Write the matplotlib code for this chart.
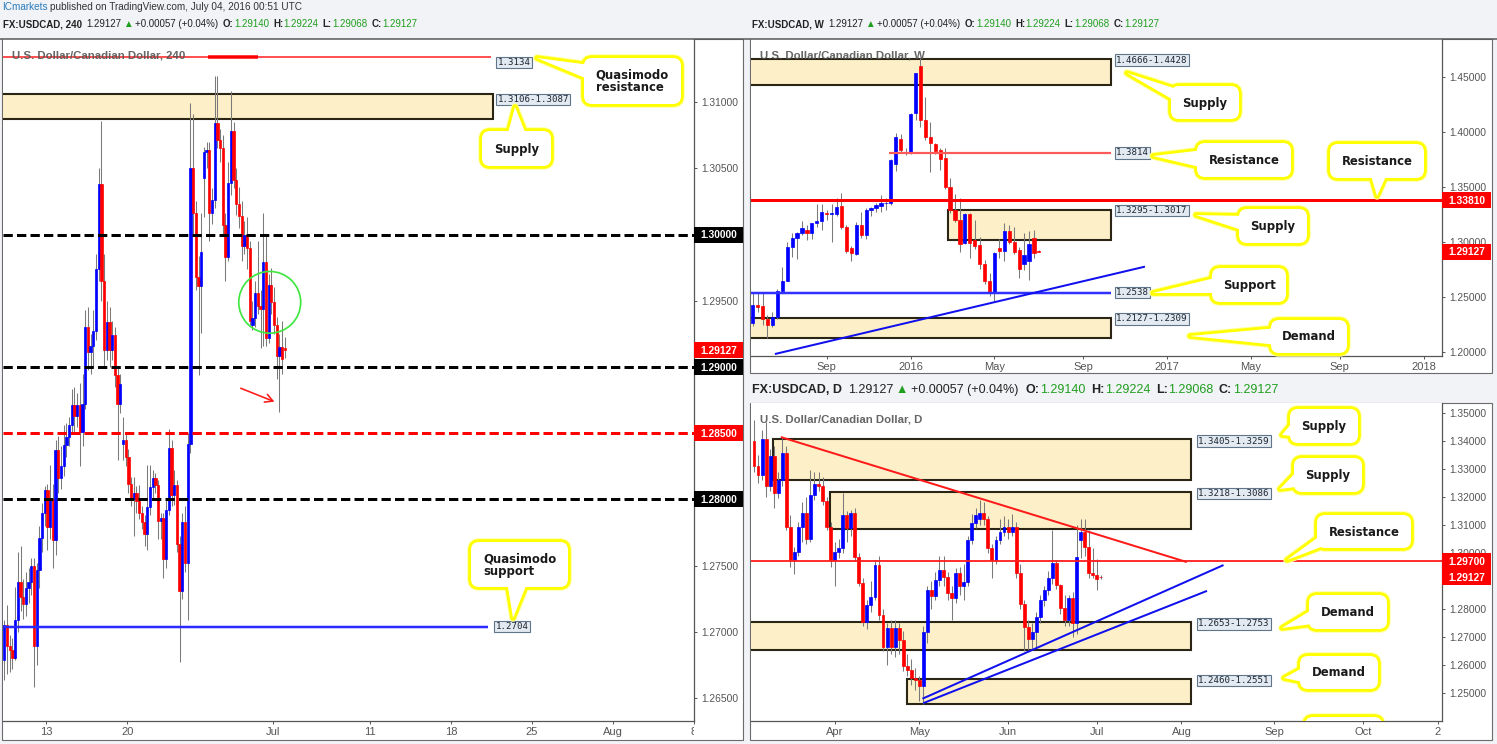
import numpy as np
import matplotlib
matplotlib.use("Agg")
import matplotlib.pyplot as plt
import matplotlib.patches as mpatches
import matplotlib.transforms as mtransforms
from matplotlib.lines import Line2D

plt.rcParams['font.family'] = ['Liberation Sans', 'DejaVu Sans']

# ============================ DATA ============================
symbol = "FX:USDCAD"
pair_name = "U.S. Dollar/Canadian Dollar"
last_o, last_h, last_l, last_c = 1.29140, 1.29224, 1.29068, 1.29127
last_chg, last_chg_pct = 0.00057, 0.04

# ---- 4 hour candles (oldest first) ----
h4_open = [1.2679, 1.2705, 1.2689, 1.2686, 1.2680, 1.2709, 1.2738, 1.2726, 1.2721, 1.2733,
           1.2738, 1.2750, 1.2689, 1.2747, 1.2771, 1.2790, 1.2807, 1.2779, 1.2800, 1.2769,
           1.2837, 1.2816, 1.2825, 1.2841, 1.2847, 1.2856, 1.2871, 1.2863, 1.2871, 1.2851,
           1.2872, 1.2930, 1.2911, 1.2916, 1.2927, 1.2974, 1.3038, 1.2965, 1.2913, 1.2934,
           1.2913, 1.2924, 1.2894, 1.2872, 1.2842, 1.2845, 1.2832, 1.2812, 1.2800, 1.2805,
           1.2799, 1.2790, 1.2783, 1.2774, 1.2794, 1.2809, 1.2816, 1.2811, 1.2784, 1.2786,
           1.2755, 1.2792, 1.2839, 1.2803, 1.2811, 1.2766, 1.2731, 1.2783, 1.2752, 1.2842,
           1.3050, 1.3016, 1.2968, 1.2961, 1.3043, 1.3062, 1.3064, 1.3016, 1.3026, 1.3084,
           1.3071, 1.3065, 1.3007, 1.2983, 1.3039, 1.3078, 1.3041, 1.3023, 1.3014, 1.2991,
           1.3000, 1.2990, 1.2932, 1.2937, 1.2956, 1.2946, 1.2944, 1.2979, 1.2922, 1.2962,
           1.2949, 1.2932, 1.2908, 1.2915, 1.29140]
h4_high = [1.2709, 1.2720, 1.2698, 1.2695, 1.2734, 1.2760, 1.2765, 1.2740, 1.2745, 1.2748,
           1.2756, 1.2756, 1.2752, 1.2780, 1.2797, 1.2810, 1.2812, 1.2826, 1.2812, 1.2845,
           1.2848, 1.2840, 1.2856, 1.2858, 1.2862, 1.2883, 1.2885, 1.2880, 1.2888, 1.2895,
           1.2943, 1.2945, 1.2925, 1.2943, 1.2985, 1.3050, 1.3086, 1.2985, 1.2950, 1.2945,
           1.2935, 1.2930, 1.2900, 1.2895, 1.2862, 1.2850, 1.2838, 1.2817, 1.2817, 1.2810,
           1.2811, 1.2795, 1.2788, 1.2826, 1.2826, 1.2822, 1.2820, 1.2815, 1.2790, 1.2790,
           1.2800, 1.2853, 1.2845, 1.2822, 1.2815, 1.2772, 1.2790, 1.2795, 1.2850, 1.3099,
           1.3091, 1.3025, 1.2984, 1.3016, 1.3066, 1.3070, 1.3070, 1.3035, 1.3120, 1.3120,
           1.3080, 1.3075, 1.3016, 1.3055, 1.3108, 1.3085, 1.3050, 1.3036, 1.3025, 1.3010,
           1.3013, 1.2995, 1.2950, 1.2965, 1.2995, 1.2958, 1.3016, 1.3000, 1.2970, 1.2975,
           1.2960, 1.2938, 1.2925, 1.2935, 1.29224]
h4_low = [1.2664, 1.2668, 1.2670, 1.2672, 1.2679, 1.2700, 1.2716, 1.2710, 1.2712, 1.2722,
          1.2728, 1.2658, 1.2675, 1.2733, 1.2760, 1.2780, 1.2762, 1.2770, 1.2748, 1.2758,
          1.2805, 1.2808, 1.2818, 1.2832, 1.2840, 1.2850, 1.2850, 1.2855, 1.2825, 1.2840,
          1.2868, 1.2898, 1.2895, 1.2900, 1.2920, 1.2965, 1.2950, 1.2900, 1.2905, 1.2900,
          1.2905, 1.2885, 1.2830, 1.2865, 1.2830, 1.2825, 1.2805, 1.2795, 1.2772, 1.2790,
          1.2785, 1.2778, 1.2765, 1.2762, 1.2788, 1.2800, 1.2805, 1.2770, 1.2770, 1.2741,
          1.2748, 1.2788, 1.2795, 1.2796, 1.2760, 1.2677, 1.2725, 1.2745, 1.2709, 1.2835,
          1.3000, 1.2958, 1.2894, 1.2926, 1.3013, 1.3050, 1.2995, 1.3008, 1.3020, 1.3065,
          1.3055, 1.3000, 1.2965, 1.2980, 1.3030, 1.3035, 1.3015, 1.3005, 1.2980, 1.2985,
          1.2974, 1.2932, 1.2928, 1.2930, 1.2940, 1.2914, 1.2916, 1.2916, 1.2918, 1.2940,
          1.2925, 1.2891, 1.2866, 1.2895, 1.29068]
h4_close = [1.2705, 1.2689, 1.2686, 1.2680, 1.2709, 1.2738, 1.2726, 1.2721, 1.2733, 1.2738,
            1.2750, 1.2689, 1.2747, 1.2771, 1.2790, 1.2807, 1.2779, 1.2800, 1.2769, 1.2837,
            1.2816, 1.2825, 1.2841, 1.2847, 1.2856, 1.2871, 1.2863, 1.2871, 1.2851, 1.2872,
            1.2930, 1.2911, 1.2916, 1.2927, 1.2974, 1.3038, 1.2965, 1.2913, 1.2934, 1.2913,
            1.2924, 1.2894, 1.2872, 1.2887, 1.2845, 1.2832, 1.2812, 1.2800, 1.2805, 1.2799,
            1.2790, 1.2783, 1.2774, 1.2794, 1.2809, 1.2816, 1.2811, 1.2784, 1.2786, 1.2755,
            1.2792, 1.2839, 1.2803, 1.2811, 1.2766, 1.2731, 1.2783, 1.2752, 1.2842, 1.3050,
            1.3016, 1.2968, 1.2961, 1.2987, 1.3062, 1.3064, 1.3016, 1.3026, 1.3084, 1.3071,
            1.3065, 1.3007, 1.2983, 1.3039, 1.3078, 1.3041, 1.3023, 1.3014, 1.2991, 1.3000,
            1.2990, 1.2935, 1.2937, 1.2956, 1.2946, 1.2944, 1.2979, 1.2922, 1.2962, 1.2949,
            1.2932, 1.2908, 1.2915, 1.2906, 1.29127]
h4_tick_dates = ["2016-06-13", "2016-06-20", "2016-07-01", "2016-07-11",
                 "2016-07-18", "2016-07-25", "2016-08-01", "2016-08-08"]
h4_tick_labels = ["13", "20", "Jul", "11", "18", "25", "Aug", "8"]
h4_price_ticks = [1.265, 1.270, 1.275, 1.280, 1.285, 1.290, 1.295, 1.300, 1.305, 1.310]
h4_qm_resistance = 1.3134
h4_supply = (1.3087, 1.3106)
h4_round_levels = [1.300, 1.290, 1.280]
h4_half_level = 1.285
h4_qm_support = 1.2704

# ---- weekly candles (first bar: week of 2015-05-25) ----
w_open = [1.2264, 1.2425, 1.2419, 1.2295, 1.2243, 1.2313, 1.2556, 1.2647, 1.2951, 1.3033,
          1.3079, 1.3109, 1.3085, 1.3170, 1.3192, 1.3261, 1.3255, 1.3255, 1.3331, 1.3134,
          1.2942, 1.2888, 1.3155, 1.3064, 1.3292, 1.3307, 1.3331, 1.3353, 1.3359, 1.3708,
          1.3936, 1.3809, 1.3809, 1.4173, 1.4605, 1.4113, 1.3961, 1.3894, 1.3839, 1.3763,
          1.3505, 1.3292, 1.3201, 1.2994, 1.3255, 1.3018, 1.2973, 1.2799, 1.2647, 1.2532,
          1.2942, 1.2921, 1.3100, 1.3003, 1.2927, 1.2799, 1.2830, 1.3033, 1.29140]
w_high = [1.2547, 1.2532, 1.2532, 1.2330, 1.2365, 1.2570, 1.2775, 1.3003, 1.3085, 1.3088,
          1.3192, 1.3155, 1.3176, 1.3347, 1.3344, 1.3292, 1.3344, 1.3401, 1.3444, 1.3155,
          1.2967, 1.3185, 1.3271, 1.3307, 1.3322, 1.3353, 1.3426, 1.3401, 1.3760, 1.3997,
          1.3985, 1.3860, 1.4173, 1.4544, 1.4680, 1.4325, 1.4097, 1.3906, 1.3860, 1.3854,
          1.3581, 1.3438, 1.3401, 1.3268, 1.3261, 1.3201, 1.3049, 1.2836, 1.2714, 1.2906,
          1.3024, 1.3170, 1.3155, 1.3140, 1.2951, 1.3079, 1.3099, 1.3109, 1.29224]
w_low = [1.2230, 1.2365, 1.2243, 1.2121, 1.2228, 1.2300, 1.2540, 1.2640, 1.2860, 1.2845,
         1.3060, 1.3018, 1.3027, 1.3140, 1.3109, 1.3201, 1.3003, 1.3240, 1.3120, 1.2897,
         1.2830, 1.2880, 1.3040, 1.3024, 1.3240, 1.3270, 1.3277, 1.3290, 1.3340, 1.3650,
         1.3818, 1.3790, 1.3800, 1.4110, 1.4050, 1.3930, 1.3635, 1.3800, 1.3657, 1.3480,
         1.3260, 1.3180, 1.2912, 1.2980, 1.2851, 1.2940, 1.2754, 1.2620, 1.2510, 1.2461,
         1.2850, 1.2830, 1.2980, 1.2890, 1.2669, 1.2745, 1.2655, 1.2851, 1.29068]
w_close = [1.2425, 1.2410, 1.2295, 1.2243, 1.2313, 1.2556, 1.2647, 1.2951, 1.3033, 1.3079,
           1.3125, 1.3079, 1.3170, 1.3192, 1.3277, 1.3252, 1.3261, 1.3322, 1.3134, 1.2921,
           1.2897, 1.3155, 1.3064, 1.3292, 1.3307, 1.3337, 1.3359, 1.3359, 1.3748, 1.3955,
           1.3839, 1.3818, 1.4167, 1.4538, 1.4113, 1.3961, 1.3906, 1.3833, 1.3754, 1.3505,
           1.3292, 1.3201, 1.2982, 1.3255, 1.2994, 1.2964, 1.2799, 1.2647, 1.2532, 1.2903,
           1.2918, 1.3100, 1.3003, 1.2912, 1.2754, 1.2881, 1.2982, 1.2897, 1.29127]
w_first_week = "2015-05-25"
w_tick_dates = ["2015-09-07", "2016-01-04", "2016-05-02", "2016-09-05",
                "2017-01-02", "2017-05-01", "2017-09-04", "2018-01-01"]
w_tick_labels = ["Sep", "2016", "May", "Sep", "2017", "May", "Sep", "2018"]
w_price_ticks = [1.20, 1.25, 1.30, 1.35, 1.40, 1.45]
w_supply_high = (1.4428, 1.4666)
w_resistance_1 = 1.3814
w_resistance_2 = 1.3381
w_supply = (1.3017, 1.3295)
w_support = 1.2538
w_demand = (1.2127, 1.2309)
w_trend_x = [4.5, 79.5]          # week index
w_trend_y = [1.1978, 1.2775]

# ---- daily candles (first bar: 2016-03-04) ----
d_open = [1.3400, 1.3310, 1.3278, 1.3405, 1.3238, 1.3345, 1.3212, 1.3260, 1.3357, 1.3093,
          1.2974, 1.3004, 1.3093, 1.3141, 1.3050, 1.3206, 1.3246, 1.3238, 1.3185, 1.3093,
          1.2974, 1.3004, 1.3016, 1.3135, 1.3087, 1.3141, 1.2986, 1.2891, 1.2755, 1.2814,
          1.2844, 1.2958, 1.2778, 1.2665, 1.2731, 1.2665, 1.2731, 1.2690, 1.2596, 1.2582,
          1.2552, 1.2546, 1.2525, 1.2719, 1.2867, 1.2845, 1.2903, 1.2939, 1.2915, 1.2856,
          1.2838, 1.2927, 1.2880, 1.2895, 1.3046, 1.3105, 1.3120, 1.3141, 1.3120, 1.3016,
          1.2974, 1.3046, 1.3076, 1.3093, 1.3076, 1.3093, 1.2927, 1.2818, 1.2737, 1.2691,
          1.2719, 1.2772, 1.2832, 1.2867, 1.2909, 1.2963, 1.2885, 1.2802, 1.2760, 1.2838,
          1.2749, 1.3046, 1.3076, 1.3022, 1.2929, 1.2921, 1.29140]
d_high = [1.3474, 1.3350, 1.3440, 1.3466, 1.3370, 1.3380, 1.3290, 1.3412, 1.3380, 1.3135,
          1.3020, 1.3110, 1.3180, 1.3200, 1.3295, 1.3290, 1.3290, 1.3270, 1.3200, 1.3110,
          1.3040, 1.3050, 1.3212, 1.3150, 1.3153, 1.3160, 1.3000, 1.2910, 1.2830, 1.2900,
          1.2975, 1.2990, 1.2800, 1.2750, 1.2760, 1.2760, 1.2750, 1.2720, 1.2640, 1.2620,
          1.2590, 1.2560, 1.2740, 1.2880, 1.2900, 1.2930, 1.2990, 1.2990, 1.2930, 1.2880,
          1.2945, 1.2950, 1.2960, 1.3060, 1.3140, 1.3160, 1.3190, 1.3180, 1.3130, 1.3030,
          1.3060, 1.3120, 1.3130, 1.3120, 1.3140, 1.3110, 1.2960, 1.2830, 1.2760, 1.2750,
          1.2790, 1.2850, 1.2880, 1.2935, 1.3080, 1.2975, 1.2890, 1.2850, 1.2850, 1.2860,
          1.3099, 1.3120, 1.3120, 1.3080, 1.3016, 1.2979, 1.29224]
d_low = [1.3290, 1.3250, 1.3260, 1.3200, 1.3220, 1.3160, 1.3195, 1.3240, 1.3080, 1.2950,
         1.2925, 1.2990, 1.3040, 1.3030, 1.3040, 1.3190, 1.3220, 1.3170, 1.3080, 1.2950,
         1.2880, 1.2980, 1.3000, 1.3040, 1.3060, 1.2970, 1.2880, 1.2740, 1.2730, 1.2790,
         1.2830, 1.2760, 1.2650, 1.2600, 1.2640, 1.2630, 1.2640, 1.2580, 1.2560, 1.2530,
         1.2510, 1.2470, 1.2461, 1.2680, 1.2800, 1.2830, 1.2880, 1.2880, 1.2830, 1.2760,
         1.2820, 1.2850, 1.2830, 1.2880, 1.3030, 1.3090, 1.3100, 1.3100, 1.3000, 1.2910,
         1.2960, 1.3030, 1.3060, 1.3050, 1.3060, 1.2910, 1.2800, 1.2650, 1.2653, 1.2655,
         1.2660, 1.2750, 1.2810, 1.2850, 1.2890, 1.2870, 1.2780, 1.2740, 1.2740, 1.2700,
         1.2709, 1.2980, 1.2990, 1.2910, 1.2910, 1.2866, 1.29068]
d_close = [1.3310, 1.3278, 1.3405, 1.3238, 1.3345, 1.3212, 1.3260, 1.3357, 1.3093, 1.2974,
           1.3004, 1.3093, 1.3141, 1.3050, 1.3206, 1.3246, 1.3238, 1.3185, 1.3093, 1.2974,
           1.3004, 1.3016, 1.3135, 1.3087, 1.3141, 1.2986, 1.2891, 1.2755, 1.2814, 1.2844,
           1.2958, 1.2778, 1.2665, 1.2731, 1.2665, 1.2731, 1.2690, 1.2596, 1.2582, 1.2552,
           1.2546, 1.2525, 1.2719, 1.2867, 1.2845, 1.2903, 1.2939, 1.2915, 1.2856, 1.2838,
           1.2927, 1.2880, 1.2895, 1.3046, 1.3105, 1.3135, 1.3141, 1.3120, 1.3016, 1.2974,
           1.3046, 1.3076, 1.3093, 1.3076, 1.3093, 1.2927, 1.2818, 1.2737, 1.2691, 1.2719,
           1.2772, 1.2832, 1.2867, 1.2909, 1.2963, 1.2885, 1.2802, 1.2760, 1.2838, 1.2749,
           1.2986, 1.3076, 1.3022, 1.2929, 1.2921, 1.2906, 1.29127]
d_first_day = "2016-03-04"
d_tick_dates = ["2016-04-01", "2016-05-02", "2016-06-01", "2016-07-01",
                "2016-08-01", "2016-09-01", "2016-10-03"]
d_tick_labels = ["Apr", "May", "Jun", "Jul", "Aug", "Sep", "Oct"]
d_price_ticks = [1.25, 1.26, 1.27, 1.28, 1.29, 1.30, 1.31, 1.32, 1.33, 1.34, 1.35]
d_supply_1 = (1.3259, 1.3405)
d_supply_2 = (1.3086, 1.3218)
d_resistance = 1.2970
d_demand_1 = (1.2653, 1.2753)
d_demand_2 = (1.2460, 1.2551)
d_trend_red_x, d_trend_red_y = [6.9, 107.1], [1.3412, 1.2968]
d_trend_b1_x, d_trend_b1_y = [42.0, 116.2], [1.2481, 1.2955]
d_trend_b2_x, d_trend_b2_y = [42.2, 112.1], [1.2465, 1.2863]

# ============================ STYLE ============================
FW, FH, DPI = 1497, 744, 100
BG = "#f1f3f6"
UP, DOWN, WICK = "#0000ff", "#ff0000", "#7a7a7a"
ZONE_FACE, ZONE_EDGE = "#fdf0c8", "#2b2516"
AXC = "#555555"
GREEN = "#1f9e1f"
HFAM = ['Liberation Sans', 'DejaVu Sans']
PT = 0.72  # points per pixel

fig = plt.figure(figsize=(FW / DPI, FH / DPI), dpi=DPI)
fig.patch.set_facecolor(BG)
ID = mtransforms.IdentityTransform()
RENDERER = fig.canvas.get_renderer()


def px_rect(x0, y0, x1, y1, **kw):
    r = mpatches.Rectangle((x0, FH - y1), x1 - x0, y1 - y0, transform=ID, **kw)
    fig.add_artist(r)
    return r


# panel frames
px_rect(2, 38.5, 743, 740, fc='white', ec='#6b6b6b', lw=0.8, zorder=-2)
px_rect(750, 38.5, 1492, 373, fc='white', ec='#6b6b6b', lw=0.8, zorder=-2)
px_rect(750, 402.5, 1492, 740, fc='white', ec='#6b6b6b', lw=0.8, zorder=-2)
fig.add_artist(Line2D([0, FW], [FH - 38.5, FH - 38.5], transform=ID, color='#5a5a5a', lw=1.1))


def make_axes(x0, y0, x1, y1):
    ax = fig.add_axes([x0 / FW, 1 - y1 / FH, (x1 - x0) / FW, (y1 - y0) / FH])
    ax.set_facecolor('white')
    ax.spines['top'].set_visible(False)
    ax.spines['left'].set_visible(False)
    for s in ('right', 'bottom'):
        ax.spines[s].set_color(AXC)
        ax.spines[s].set_linewidth(0.9)
    ax.yaxis.tick_right()
    ax.tick_params(axis='y', length=2.5, width=0.7, colors=AXC, labelsize=7.4, pad=2.6,
                   left=False, labelleft=False, right=True, labelright=True)
    ax.tick_params(axis='x', length=2.5, width=0.7, colors=AXC, labelsize=8, pad=1.8)
    ax.w_px, ax.h_px = x1 - x0, y1 - y0
    return ax


def draw_candles(ax, o, h, l, c, width):
    o, h, l, c = (np.asarray(v, float) for v in (o, h, l, c))
    x = np.arange(len(o))
    col = np.where(c >= o, UP, DOWN)
    ax.vlines(x, l, h, colors=WICK, linewidth=0.75, zorder=3)
    ax.bar(x, np.abs(c - o), width, bottom=np.minimum(o, c), color=col,
           edgecolor=col, linewidth=0.5, zorder=4)


def zone(ax, lo, hi, x0, x1):
    ax.add_patch(mpatches.Rectangle((x0, lo), x1 - x0, hi - lo, fc=ZONE_FACE,
                                    ec=ZONE_EDGE, lw=1.5, zorder=1))


def tag_label(ax, x, y, text, va='center', dx=5, dy=0):
    ax.annotate(text, xy=(x, y), xytext=(dx * PT, dy * PT), textcoords='offset points',
                ha='left', va=va, fontsize=6.6, family='DejaVu Sans Mono', color='#1d2733',
                bbox=dict(boxstyle='square,pad=0.15', fc='#e3eaf1', ec='#61758a', lw=0.8),
                zorder=7, annotation_clip=False)


def price_tag(ax, price, face):
    y0, y1 = ax.get_ylim()
    ppx = (y1 - y0) / ax.h_px
    tr = mtransforms.blended_transform_factory(ax.transAxes, ax.transData)
    ax.add_patch(mpatches.Rectangle((1.0, price - 8 * ppx), 49 / ax.w_px, 16 * ppx,
                                    transform=tr, fc=face, ec='none', clip_on=False, zorder=10))
    ax.text(1.0 + 6 / ax.w_px, price - 0.6 * ppx, f"{price:.5f}", transform=tr, ha='left',
            va='center', color='white', fontsize=7.4, fontweight='bold', clip_on=False, zorder=11)


def set_ticks(ax, xpos, xlabels, yticks, hidden=()):
    ax.set_xticks(xpos, xlabels)
    ax.set_yticks(yticks, ["" if any(abs(v - hv) < 1e-9 for hv in hidden) else f"{v:.5f}"
                           for v in yticks])
    bx = mtransforms.TransformedBbox(mtransforms.Bbox.from_extents(0, -0.3, 1, 1), ax.transAxes)
    by = mtransforms.TransformedBbox(mtransforms.Bbox.from_extents(0, 0, 1.3, 1), ax.transAxes)
    for t in ax.xaxis.get_major_ticks():
        t.label1.set_clip_box(bx)
        t.label1.set_clip_on(True)
    for t in ax.yaxis.get_major_ticks():
        t.label2.set_clip_box(by)
        t.label2.set_clip_on(True)


def title(ax, text):
    ax.annotate(text, xy=(0, 1), xycoords='axes fraction', xytext=(8.5 * PT, -16.5 * PT),
                textcoords='offset points', ha='left', va='center', fontsize=8.2,
                fontweight='bold', color='#555555', alpha=0.9, zorder=9)


def callout(text, box, tip=None, base=None, clip_ax=None):
    x0, y0, x1, y1 = box
    layers = [('none', '#ffffa0', 7.5, 20), ('none', '#ffff00', 5.6, 20.5), ('white', 'none', 0.0, 21)]
    for fc, ec, lw, z in layers:
        arts = [mpatches.FancyBboxPatch((x0, FH - y1), x1 - x0, y1 - y0,
                                        boxstyle='round,pad=0,rounding_size=8', transform=ID,
                                        fc=fc, ec=ec, lw=lw * PT, zorder=z)]
        if tip is not None:
            tri = [(tip[0], FH - tip[1]), (base[0][0], FH - base[0][1]), (base[1][0], FH - base[1][1])]
            arts.append(mpatches.Polygon(tri, closed=True, transform=ID, fc=fc, ec=ec,
                                         lw=lw * PT, joinstyle='round', zorder=z))
        for a in arts:
            fig.add_artist(a)
            if clip_ax is not None:
                a.set_clip_box(clip_ax.bbox)
                a.set_clip_on(True)
    if text:
        fig.text((x0 + x1) / 2 / FW, 1 - ((y0 + y1) / 2 + 0.5) / FH, text, ha='center', va='center',
                 multialignment='left', fontsize=8.4, fontweight='bold', family='DejaVu Sans',
                 color='#1a1a1a', linespacing=0.95, zorder=22)


def rich_line(x, y, parts, size):
    """Place text pieces one after another (piece, colour, weight, gap after in px)."""
    for s, col, wt, gap in parts:
        t = fig.text(x / FW, 1 - y / FH, s, color=col, fontweight=wt, fontsize=size,
                     family=HFAM, ha='left', va='center')
        x += t.get_window_extent(renderer=RENDERER).width + gap


def header(x, y, tf, size, g=1.0):
    dark = '#222222'
    parts = [(f"{symbol}, {tf}", dark, 'bold', 4 * g), (f"{last_c:.5f}", dark, 'normal', 2 * g),
             ("\u25B2", GREEN, 'normal', 2 * g),
             (f"{last_chg:+.5f} ({last_chg_pct:+.2f}%)", dark, 'normal', 5 * g),
             ("O:", dark, 'bold', 0.5), (f"{last_o:.5f}", GREEN, 'normal', 4 * g),
             ("H:", dark, 'bold', 0.5), (f"{last_h:.5f}", GREEN, 'normal', 4 * g),
             ("L:", dark, 'bold', 0.5), (f"{last_l:.5f}", GREEN, 'normal', 4 * g),
             ("C:", dark, 'bold', 0.5), (f"{last_c:.5f}", GREEN, 'normal', 0)]
    rich_line(x, y, parts, size)


# ---------------- top header ----------------
rich_line(2, 7.5, [("ICmarkets", '#2a7bbd', 'normal', 3),
                   ("published on TradingView.com, July 04, 2016 00:51 UTC", '#333333', 'normal', 0)], 7.2)
header(3, 24.3, "240", 7.0)
header(752, 24.3, "W", 7.0)
header(752, 390, "D", 9.0, g=1.4)

# ====================== 4H PANEL ======================
ax4 = make_axes(3, 39, 694, 721)
draw_candles(ax4, h4_open, h4_high, h4_low, h4_close, 0.85)
h4_x_end = 180.6
zone(ax4, h4_supply[0], h4_supply[1], -5, h4_x_end + 0.4)
ax4.hlines(h4_qm_resistance, -5, h4_x_end, color='#ff1a1a', lw=1.5 * PT, zorder=5)
ax4.hlines(h4_qm_resistance, 75.4, 93.9, color='#ff0000', lw=3.5 * PT, zorder=5)
for lv in h4_round_levels:
    ax4.axhline(lv, color='black', lw=3 * PT, ls=(0, (3.1, 1.4)), zorder=5)
ax4.axhline(h4_half_level, color='#ff0000', lw=3 * PT, ls=(0, (3.1, 1.4)), zorder=5)
ax4.hlines(h4_qm_support, -5, 179.5, color='#2a2aff', lw=2.5 * PT, zorder=5)
ax4.add_patch(mpatches.Ellipse((98.4, 1.29488), 22.96, 0.00466, fill=False, ec='#3ee63e',
                               lw=1.7 * PT, zorder=6))
ax4.annotate("", xy=(101.1, 1.28730), xytext=(86.7, 1.28847),
             arrowprops=dict(arrowstyle='->,head_length=0.55,head_width=0.3', color='#ff1a1a',
                             lw=1.6 * PT), zorder=6)
ax4.set_xlim(-0.49, 255.7)
ax4.set_ylim(1.26327, 1.31476)
h4_pos = 6 * np.busday_count("2016-06-08", h4_tick_dates) - 2.4
set_ticks(ax4, h4_pos, h4_tick_labels, h4_price_ticks,
          hidden=h4_round_levels + [h4_half_level])
tag_label(ax4, h4_x_end, h4_qm_resistance, f"{h4_qm_resistance:.4f}", va='top', dx=6, dy=-1)
tag_label(ax4, h4_x_end + 0.4, h4_supply[1], f"{h4_supply[1]:.4f}-{h4_supply[0]:.4f}", va='top', dx=5, dy=-1)
tag_label(ax4, 179.5, h4_qm_support, f"{h4_qm_support:.4f}", va='center', dx=7)
title(ax4, f"{pair_name}, 240")
for lv in h4_round_levels:
    price_tag(ax4, lv, '#000000')
price_tag(ax4, h4_half_level, '#ff0000')
price_tag(ax4, last_c, '#ff0000')

# ====================== WEEKLY PANEL ======================
axw = make_axes(751, 39, 1442, 356)
draw_candles(axw, w_open, w_high, w_low, w_close, 0.65)
w_x_end = 72.6
zone(axw, w_supply_high[0], w_supply_high[1], -5, w_x_end)
zone(axw, w_supply[0], w_supply[1], 39.6, w_x_end)
zone(axw, w_demand[0], w_demand[1], -5, w_x_end)
axw.hlines(w_resistance_1, 27.6, w_x_end, color='#ff5a5a', lw=2.2 * PT, zorder=5)
axw.axhline(w_resistance_2, color='#ff0000', lw=3 * PT, zorder=5)
axw.hlines(w_support, -5, w_x_end, color='#3030ff', lw=2.5 * PT, zorder=5)
axw.plot(w_trend_x, w_trend_y, color='#1010ee', lw=2 * PT, zorder=5, solid_capstyle='butt')
axw.set_xlim(-0.34, 139.7)
axw.set_ylim(1.1960, 1.4851)
w_pos = (np.array(w_tick_dates, dtype='datetime64[D]') - np.datetime64(w_first_week)).astype(int) / 7
set_ticks(axw, w_pos, w_tick_labels, w_price_ticks)
tag_label(axw, w_x_end, w_supply_high[1], f"{w_supply_high[1]:.4f}-{w_supply_high[0]:.4f}", va='top', dy=3.5)
tag_label(axw, w_x_end, w_resistance_1, f"{w_resistance_1:.4f}")
tag_label(axw, w_x_end, w_supply[1], f"{w_supply[1]:.4f}-{w_supply[0]:.4f}", va='top', dy=3.5)
tag_label(axw, w_x_end, w_support, f"{w_support:.4f}")
tag_label(axw, w_x_end, w_demand[1], f"{w_demand[0]:.4f}-{w_demand[1]:.4f}", va='top', dy=3.5)
title(axw, f"{pair_name}, W")
price_tag(axw, w_resistance_2, '#ff0000')
price_tag(axw, last_c, '#ff0000')

# ====================== DAILY PANEL ======================
axd = make_axes(751, 403, 1442, 721)
draw_candles(axd, d_open, d_high, d_low, d_close, 0.72)
d_x_end = 108.4
zone(axd, d_supply_1[0], d_supply_1[1], 4.6, d_x_end)
zone(axd, d_supply_2[0], d_supply_2[1], 18.8, d_x_end)
zone(axd, d_demand_1[0], d_demand_1[1], -5, d_x_end)
zone(axd, d_demand_2[0], d_demand_2[1], 37.9, d_x_end)
axd.axhline(d_resistance, color='#ff1a1a', lw=1.8 * PT, zorder=5)
axd.plot(d_trend_red_x, d_trend_red_y, color='#ff1a1a', lw=2 * PT, zorder=5)
axd.plot(d_trend_b1_x, d_trend_b1_y, color='#1010ee', lw=2 * PT, zorder=5)
axd.plot(d_trend_b2_x, d_trend_b2_y, color='#1010ee', lw=2 * PT, zorder=5)
axd.set_xlim(-0.74, 170.6)
axd.set_ylim(1.2400, 1.35346)
d_pos = list(np.busday_count(d_first_day, d_tick_dates)) + [169.6]
set_ticks(axd, d_pos, d_tick_labels + ["2"], d_price_ticks, hidden=[1.29])
tag_label(axd, d_x_end, d_supply_1[1], f"{d_supply_1[1]:.4f}-{d_supply_1[0]:.4f}", va='top', dx=7, dy=2.7)
tag_label(axd, d_x_end, d_supply_2[1], f"{d_supply_2[1]:.4f}-{d_supply_2[0]:.4f}", va='top', dx=7, dy=2.7)
tag_label(axd, d_x_end, d_demand_1[1], f"{d_demand_1[0]:.4f}-{d_demand_1[1]:.4f}", va='top', dx=7, dy=2.7)
tag_label(axd, d_x_end, d_demand_2[1], f"{d_demand_2[0]:.4f}-{d_demand_2[1]:.4f}", va='top', dx=7, dy=2.7)
title(axd, f"{pair_name}, D")
price_tag(axd, d_resistance, '#ff0000')
price_tag(axd, last_c, '#ff0000')

# ====================== CALLOUTS ======================
callout("Quasimodo\nresistance", (584, 58, 681, 104), (537, 58), ((590, 65), (590, 80)))
callout("Supply", (482, 131, 551, 166), (515, 107), ((507, 137), (527, 137)))
callout("Quasimodo\nsupport", (471, 542, 568, 587), (513, 618), ((507, 581), (528, 581)))
callout("Supply", (1171, 86, 1239, 119), (1127, 73), ((1186, 92), (1177, 102)))
callout("Resistance", (1197, 143, 1291, 177), (1153, 156), ((1204, 150), (1204, 168)))
callout("Resistance", (1330, 144, 1424, 178), (1377, 196), ((1370, 172), (1388, 172)))
callout("Supply", (1239, 209, 1307, 243), (1196, 215), ((1246, 216), (1248, 232)))
callout("Support", (1212, 268, 1286, 302), (1153, 293), ((1219, 277), (1219, 293)))
callout("Demand", (1271, 320, 1347, 353), (1190, 336), ((1278, 328), (1278, 345)))
callout("Supply", (1290, 409, 1358, 443), (1282, 435), ((1296, 418), (1300, 437)))
callout("Supply", (1294, 458, 1362, 492), (1280, 489), ((1300, 468), (1304, 486)))
callout("Resistance", (1317, 515, 1411, 548), (1287, 560), ((1324, 533), (1334, 542)))
callout("Demand", (1309, 595, 1387, 629), (1282, 628), ((1315, 608), (1320, 623)))
callout("Demand", (1300, 656, 1378, 689), (1284, 678), ((1306, 666), (1308, 683)))
callout("", (1305, 717, 1382, 751), clip_ax=axd)

fig.savefig("out.png", dpi=DPI, facecolor=fig.get_facecolor())
